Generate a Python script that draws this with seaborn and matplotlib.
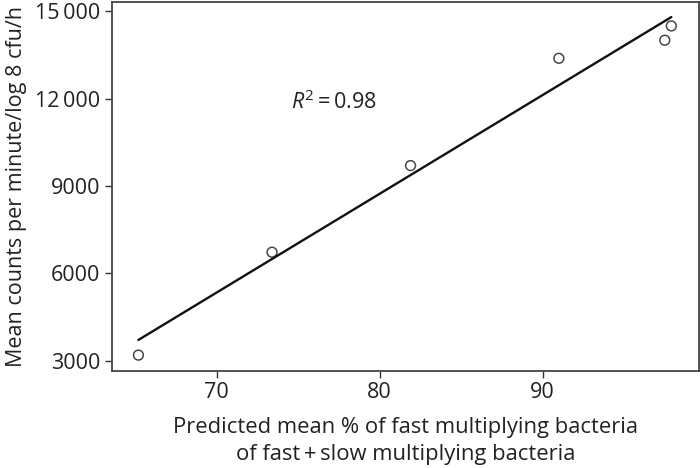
import numpy as np
import pandas as pd
import matplotlib
matplotlib.use("Agg")
import matplotlib.pyplot as plt
import seaborn as sns

# valores
pct_fast = [65.2, 73.4, 81.9, 91.0, 97.5, 97.9]
counts = [3200, 6730, 9700, 13380, 14000, 14490]

xticks = [70, 80, 90]
yticks = [3000, 6000, 9000, 12000, 15000]
ytick_labels = ["3000", "6000", "9000", "12\u2009000", "15\u2009000"]

df = pd.DataFrame({"pct": pct_fast, "cpm": counts})

sns.set_theme(style="ticks")
plt.rcParams['font.family'] = ['Open Sans', 'DejaVu Sans']
plt.rcParams['mathtext.fontset'] = 'custom'
plt.rcParams['mathtext.rm'] = 'Open Sans'
plt.rcParams['mathtext.it'] = 'Open Sans:italic'

fig, ax = plt.subplots(figsize=(7, 4.68), dpi=100)
fig.subplots_adjust(left=0.16, right=0.9986, top=0.9957, bottom=0.208)

sns.regplot(data=df, x="pct", y="cpm", ax=ax, ci=None, truncate=True,
            scatter_kws=dict(facecolors="none", edgecolors="#1a1a1a", s=50, linewidths=1.1),
            line_kws=dict(color="#111111", linewidth=1.7))

ax.set_xlim(63.58, 99.6)
ax.set_ylim(2667, 15310)
ax.set_xticks(xticks)
ax.set_yticks(yticks)
ax.set_yticklabels(ytick_labels)
ax.tick_params(labelsize=15.5, length=5, width=1, color="#333333", labelcolor="#222222")

for s in ax.spines.values():
    s.set_visible(True)
    s.set_color("#444444")
    s.set_linewidth(1.3)

ax.set_xlabel("Predicted mean % of fast multiplying bacteria\nof fast\u2009+\u2009slow multiplying bacteria",
              fontsize=15.8, color="#222222", labelpad=10, linespacing=1.38)
ax.set_ylabel("Mean counts per minute/log 8 cfu/h", fontsize=15.5, color="#222222", labelpad=6)

ax.text(74.55, 11880, r"$R^2$" + "\u2009=\u20090.98", fontsize=15.5, color="#222222",
        va="center", ha="left")

fig.savefig("out.png", dpi=100)
